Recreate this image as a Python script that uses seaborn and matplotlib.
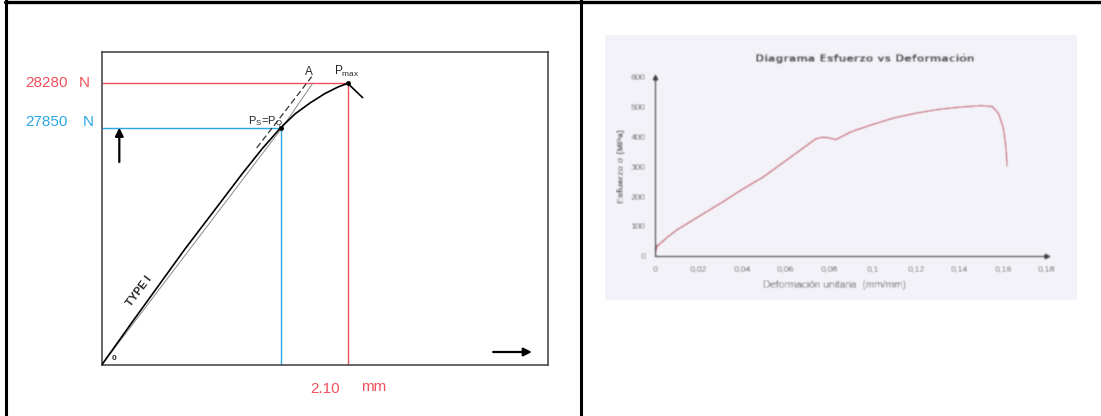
import numpy as np
import matplotlib
matplotlib.use("Agg")
import matplotlib.pyplot as plt
import seaborn as sns
from matplotlib.lines import Line2D
from matplotlib.patches import Rectangle
from matplotlib.ticker import MultipleLocator

# ---------------- data ----------------
# Load-displacement record (schematic, Type I)
curve_disp = [0.0, 0.267, 0.711, 1.010, 1.198, 1.368, 1.528, 1.650, 1.778, 1.906, 2.017, 2.100, 2.228]
curve_load = [0, 5164, 13614, 19012, 22416, 25350, 27850, 27983, 28089, 28181, 28244, 28280, 28141]
secant_disp = [0.0, 1.540, 1.801]
secant_load = [0, 27850, 28280]
tangent_disp = [1.323, 1.457, 1.793]
tangent_load = [25472, 27850, 28344]
pq_disp, pq_load = 1.528, 27850
pmax_disp, pmax_load = 2.10, 28280

# Stress-strain test curve
strain = [0.0, 0.0008, 0.005, 0.010, 0.020, 0.030, 0.040, 0.050, 0.060, 0.070,
          0.074, 0.077, 0.080, 0.083, 0.090, 0.100, 0.110, 0.120, 0.130, 0.140,
          0.150, 0.155, 0.158, 0.160, 0.161, 0.1615, 0.1618]
stress = [0, 30, 58, 86, 131, 175, 222, 265, 318, 371,
          392, 397, 395, 389, 415, 440, 462, 478, 490, 498,
          503, 500, 475, 430, 380, 340, 300]
strain_ticks = [0, 0.02, 0.04, 0.06, 0.08, 0.10, 0.12, 0.14, 0.16, 0.18]
strain_tick_labels = ["0", "0,02", "0,04", "0,06", "0,08", "0,1", "0,12", "0,14", "0,16", "0,18"]
stress_ticks = [0, 100, 200, 300, 400, 500, 600]
stress_tick_labels = ["0", "100", "200", "300", "400", "500", "600"]

# ---------------- style ----------------
sns.set_style("white")
plt.rcParams["font.family"] = ["Liberation Sans", "DejaVu Sans"]
plt.rcParams["mathtext.default"] = "regular"

RED = "#f0505c"
BLUE = "#2aa6e6"

W, H = 1101, 416
fig = plt.figure(figsize=(W / 100, H / 100), dpi=100)


def fig_rect(x0, y0, x1, y1):
    return [x0 / W, 1 - y1 / H, (x1 - x0) / W, (y1 - y0) / H]


# table frame
fig.add_artist(Line2D([6.5 / W, 6.5 / W], [0, 1], color="black", lw=2.2, transform=fig.transFigure))
fig.add_artist(Line2D([5 / W, 1], [1 - 1.7 / H, 1 - 1.7 / H], color="black", lw=2.4, transform=fig.transFigure))
fig.add_artist(Line2D([580.8 / W, 580.8 / W], [0, 1], color="black", lw=2.2, transform=fig.transFigure))

# ---------------- left: load vs displacement ----------------
ax1 = fig.add_axes(fig_rect(101.7, 51.7, 547.5, 365))

# stretch the load axis above the PQ level so the top of the curve is readable
upper_gain = 12.12


def stretch(v):
    v = np.asarray(v, float)
    return np.where(v <= pq_load, v, pq_load + (v - pq_load) * upper_gain)


def unstretch(u):
    u = np.asarray(u, float)
    return np.where(u <= pq_load, u, pq_load + (u - pq_load) / upper_gain)


ax1.set_yscale("function", functions=(stretch, unstretch))
ax1.set_xlim(0, 3.806)
ax1.set_ylim(0, 28586)
ax1.set_xticks([])
ax1.set_yticks([])
ax1.minorticks_off()
for s in ax1.spines.values():
    s.set_color("#3c3c3c")
    s.set_linewidth(1.1)

# reference lines
ax1.hlines(pmax_load, 0, pmax_disp, color=RED, lw=1.0, zorder=2)
ax1.vlines(pmax_disp, 0, pmax_load, color=RED, lw=1.0, zorder=2)
ax1.hlines(pq_load, 0, pq_disp, color=BLUE, lw=1.0, zorder=2)
ax1.vlines(pq_disp, 0, pq_load, color=BLUE, lw=1.0, zorder=2)

sns.lineplot(x=secant_disp, y=secant_load, ax=ax1, sort=False, estimator=None,
             color="#8a8a8a", lw=0.7, zorder=3)
sns.lineplot(x=tangent_disp, y=tangent_load, ax=ax1, sort=False, estimator=None,
             color="#333333", lw=0.9, zorder=3)
ax1.lines[-1].set_dashes((5, 2.5))
sns.lineplot(x=curve_disp, y=curve_load, ax=ax1, sort=False, estimator=None,
             color="black", lw=1.2, zorder=4)
ax1.plot([pq_disp, pmax_disp], [pq_load, pmax_load], ls="none", marker="o",
         ms=2.5, color="black", zorder=5)

# labels on the schematic
ax1.annotate("A", xy=(tangent_disp[-1], tangent_load[-1]), xytext=(-2, -1),
             textcoords="offset points", ha="center", va="bottom", fontsize=8.5)
ax1.annotate(r"P$_{max}$", xy=(pmax_disp, pmax_load), xytext=(-9.5, 3),
             textcoords="offset points", ha="left", va="bottom", fontsize=8.5)
ax1.annotate(r"P$_S$=P$_Q$", xy=(pq_disp, pq_load), xytext=(1.5, 1.5),
             textcoords="offset points", ha="right", va="baseline", fontsize=8)
ax1.text(0.085, 0.236, "TYPE I", transform=ax1.transAxes, rotation=53,
         rotation_mode="anchor", ha="center", va="center", fontsize=8, fontweight="bold")
ax1.text(0.028, 0.022, "0", transform=ax1.transAxes, ha="center", va="center",
         fontsize=6, fontweight="bold")

ax1.annotate("", xy=(0.0395, pq_load), xycoords=("axes fraction", "data"),
             xytext=(0.0395, 0.648), textcoords="axes fraction",
             arrowprops=dict(arrowstyle="-|>", color="black", lw=1.6,
                             mutation_scale=12, shrinkA=0, shrinkB=0))
ax1.annotate("", xy=(0.965, 0.0415), xycoords="axes fraction",
             xytext=(0.878, 0.0415), textcoords="axes fraction",
             arrowprops=dict(arrowstyle="-|>", color="black", lw=1.6,
                             mutation_scale=12, shrinkA=0, shrinkB=0))

# value labels
ax1.annotate(f"{pmax_load}", xy=(0, pmax_load), xycoords=("axes fraction", "data"),
             xytext=(-24.3, 0), textcoords="offset points", ha="right", va="center",
             color=RED, fontsize=11)
ax1.annotate("N", xy=(0, pmax_load), xycoords=("axes fraction", "data"),
             xytext=(-16.3, 0.5), textcoords="offset points", ha="left", va="center",
             color=RED, fontsize=11)
ax1.annotate(f"{pq_load}", xy=(0, pq_load), xycoords=("axes fraction", "data"),
             xytext=(-24.3, 4.3), textcoords="offset points", ha="right", va="center",
             color=BLUE, fontsize=11)
ax1.annotate("N", xy=(0, pq_load), xycoords=("axes fraction", "data"),
             xytext=(-13.5, 4.3), textcoords="offset points", ha="left", va="center",
             color=BLUE, fontsize=11)
ax1.annotate(f"{pmax_disp:.2f}", xy=(pmax_disp, 0), xycoords=("data", "axes fraction"),
             xytext=(-16.3, -17), textcoords="offset points", ha="center", va="center",
             color=RED, fontsize=11)
ax1.annotate("mm", xy=(pmax_disp, 0), xycoords=("data", "axes fraction"),
             xytext=(19, -16), textcoords="offset points", ha="center", va="center",
             color=RED, fontsize=11)

# ---------------- right: stress vs strain ----------------
fig.add_artist(Rectangle((605 / W, 1 - 300 / H), 472 / W, 265 / H,
                         transform=fig.transFigure, facecolor="#f3f2f8",
                         edgecolor="none", zorder=0))

ax2 = fig.add_axes(fig_rect(655, 76.7, 1046.7, 255.7))
ax2.patch.set_alpha(0)
sns.lineplot(x=strain, y=stress, ax=ax2, sort=False, estimator=None,
             color="#c0606e", lw=1.1)
ax2.set_xlim(0, 0.18)
ax2.set_ylim(0, 600)
ax2.set_xticks(strain_ticks, strain_tick_labels)
ax2.set_yticks(stress_ticks, stress_tick_labels)
ax2.xaxis.set_minor_locator(MultipleLocator(0.004))
ax2.yaxis.set_minor_locator(MultipleLocator(20))
for side in ("top", "right"):
    ax2.spines[side].set_visible(False)
for side in ("left", "bottom"):
    ax2.spines[side].set_color("#3a3a3a")
    ax2.spines[side].set_linewidth(1.0)
ax2.tick_params(which="both", direction="inout", colors="#3a3a3a",
                labelcolor="#4a4a4a", labelsize=6.5, width=0.7)
ax2.tick_params(which="major", length=3.5, pad=5)
ax2.tick_params(which="minor", length=2.5)
ax2.plot([0], [1], marker="^", ms=3.5, color="#3a3a3a", transform=ax2.transAxes, clip_on=False)
ax2.plot([1], [0], marker=">", ms=3.5, color="#3a3a3a", transform=ax2.transAxes, clip_on=False)
ax2.set_title("Diagrama Esfuerzo vs Deformación", fontsize=8, fontweight="bold",
              color="#4e4e4e", x=0.536, pad=10.5, family=["DejaVu Sans"])
ax2.set_xlabel("Deformación unitaria  (mm/mm)", fontsize=7.3, color="#555555",
               x=0.457, labelpad=4)
ax2.set_ylabel("Esfuerzo σ (MPa)", fontsize=6.5, color="#555555", labelpad=3,
               fontweight="bold")


def soften(sigma):
    rad = int(3 * sigma) + 1
    k = np.exp(-0.5 * (np.arange(-rad, rad + 1) / sigma) ** 2)
    k /= k.sum()

    def _filter(img, dpi):
        pad = rad
        p = np.pad(img, ((pad, pad), (pad, pad), (0, 0)))
        tmp = np.zeros_like(p)
        for i, w in enumerate(k):
            tmp[:, rad:-rad] += w * p[:, i:i + p.shape[1] - 2 * rad]
        out = np.zeros_like(p)
        for i, w in enumerate(k):
            out[rad:-rad, :] += w * tmp[i:i + p.shape[0] - 2 * rad, :]
        return out, -pad, -pad

    return _filter


ax2.set_agg_filter(soften(0.85))

fig.savefig("out.png", dpi=100, facecolor="white")
